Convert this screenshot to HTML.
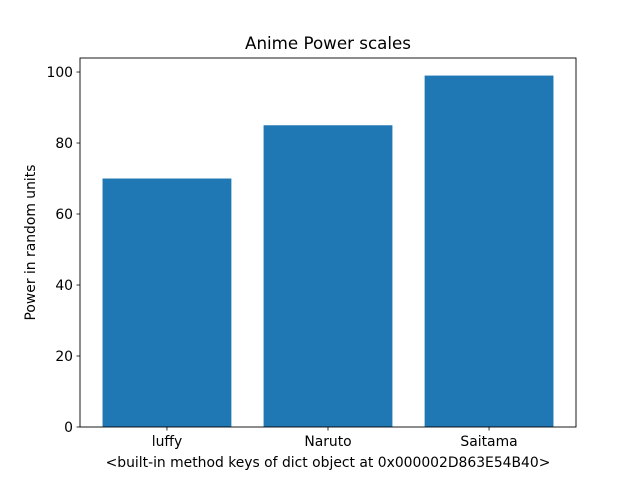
<!DOCTYPE html>
<html><head><meta charset="utf-8"><style>
html,body{margin:0;padding:0;background:#fff;}
svg{display:block;font-family:"DejaVu Sans","Liberation Sans",sans-serif;}
</style></head><body>
<svg id="chart" width="640" height="480">
<rect width="640" height="480" fill="#fff"/>
<text x="328" y="49" text-anchor="middle" font-size="16.7">Anime Power scales</text>
<g id="bars"></g>
<g id="yticks"></g>
<g id="xticks"></g>
<rect x="80" y="58" width="496" height="369" fill="none" stroke="#000" stroke-width="0.9"/>
<text transform="translate(35,242.5) rotate(-90)" text-anchor="middle" font-size="13.9">Power in random units</text>
<text x="328" y="467" text-anchor="middle" font-size="13.9">&lt;built-in method keys of dict object at 0x000002D863E54B40&gt;</text>
</svg>
<script>
const categories = ["luffy", "Naruto", "Saitama"];
const values = [70, 85, 99];
const yTicks = [0, 20, 40, 60, 80, 100];

const L = 80, R = 576, T = 58, B = 427;
const yMax = Math.max(...values) * 1.05;
const xMin = -0.54, xMax = categories.length - 1 + 0.54;
const ns = "http://www.w3.org/2000/svg";
function xs(v){ return L + (v - xMin) / (xMax - xMin) * (R - L); }
function ys(v){ return B - v / yMax * (B - T); }
function mk(tag, attrs, parent){
  const e = document.createElementNS(ns, tag);
  for (const k in attrs) e.setAttribute(k, attrs[k]);
  parent.appendChild(e);
  return e;
}
const gb = document.getElementById("bars");
const gy = document.getElementById("yticks");
const gx = document.getElementById("xticks");
categories.forEach((c, i) => {
  const x0 = xs(i - 0.4), x1 = xs(i + 0.4);
  const r = mk("rect", {x: x0, y: ys(values[i]), width: x1 - x0, height: B - ys(values[i]), fill: "#1f77b4"}, gb);
  
  
  const tk = mk("line", {x1: xs(i), x2: xs(i), y1: B, y2: B + 3.5, stroke: "#000", "stroke-width": 0.8}, gx);
  
  
  const t = mk("text", {x: xs(i), y: B + 19, "text-anchor": "middle", "font-size": 13.9}, gx);
  t.textContent = c;
  
  
});
yTicks.forEach(v => {
  const tk = mk("line", {x1: L - 3.5, x2: L, y1: ys(v), y2: ys(v), stroke: "#000", "stroke-width": 0.8}, gy);
  
  
  const t = mk("text", {x: L - 7, y: ys(v) + 5, "text-anchor": "end", "font-size": 13.9}, gy);
  t.textContent = v;
  
  
});
</script>
</body></html>
